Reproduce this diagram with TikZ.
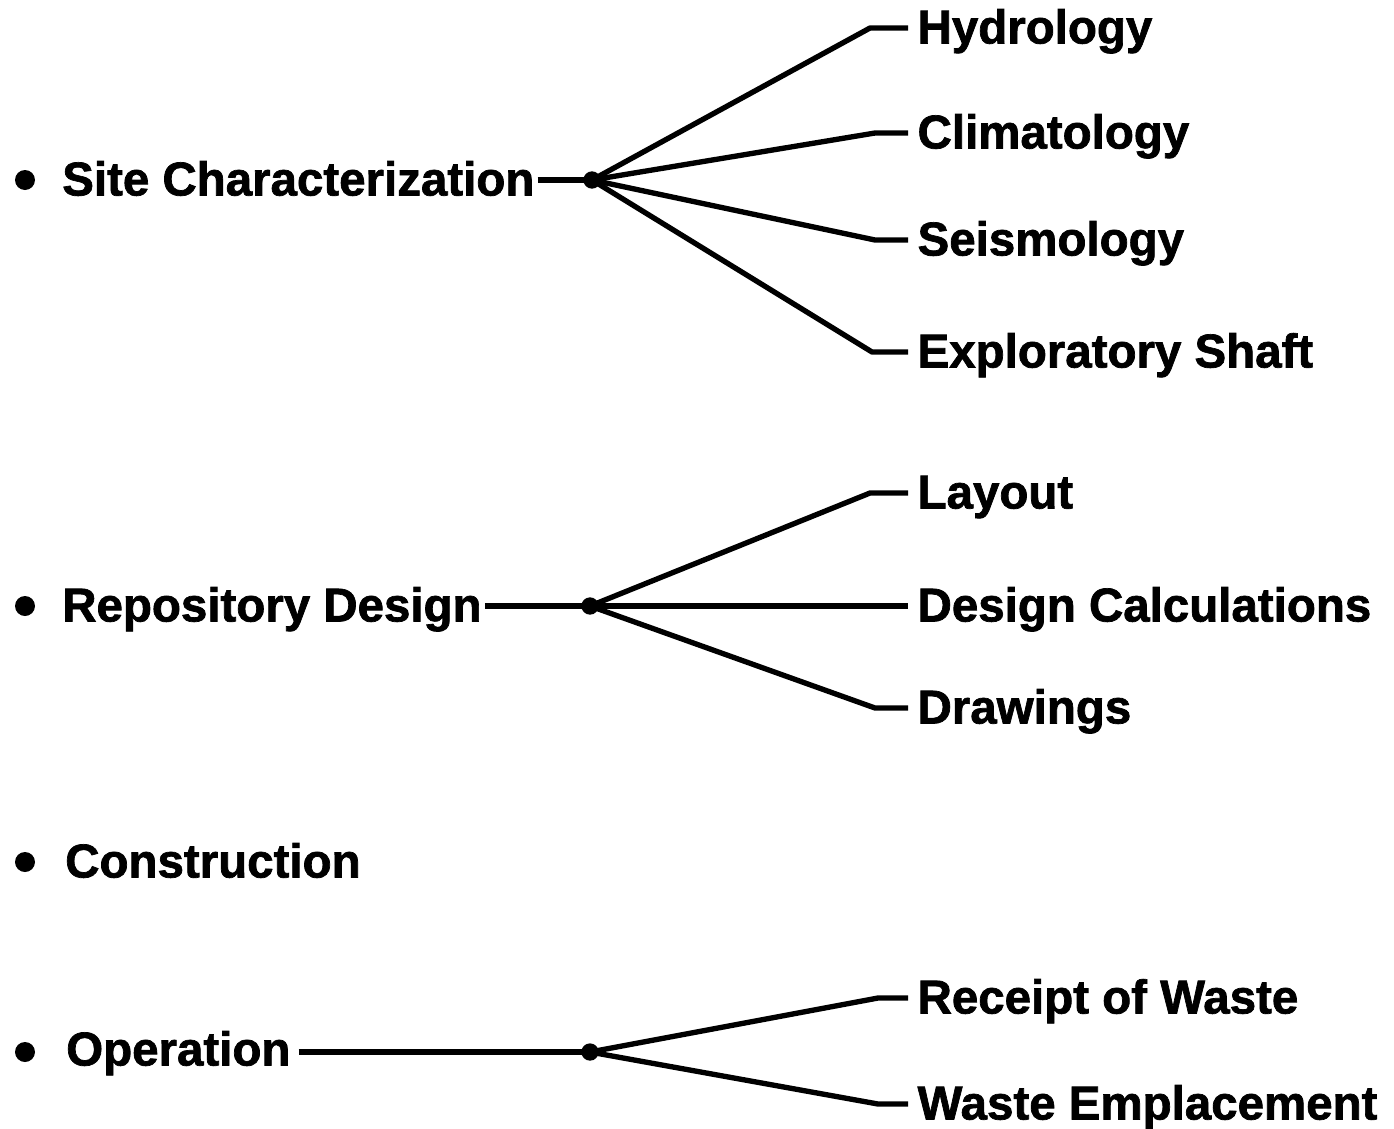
\documentclass[tikz,border=0pt]{standalone}
\usepackage{fontspec}
\setmainfont{Liberation Sans}[BoldFeatures={FakeBold=1.5}]
\begin{document}
\begin{tikzpicture}[x=0.75pt,y=-0.75pt,
  conn/.style={line width=4pt,line join=round,line cap=butt},
  lbl/.style={anchor=west,inner ysep=0pt,inner xsep=7pt,font=\fontsize{35.6}{40}\bfseries\selectfont,text height=28.5pt,text depth=5.3pt},
  mainlbl/.style={lbl,inner xsep=0pt},
  hubdot/.style={circle,fill=black,inner sep=0pt,minimum size=13pt},
  bulletdot/.style={circle,fill=black,inner sep=0pt,minimum size=15pt}]
\useasboundingbox (0,0) rectangle (1394,1128);
% Site characterization
\node[bulletdot] (b1) at (25,180) {};
\node[mainlbl] (site) at (62,180) {Site Characterization};
\node[hubdot] (h1) at (592,180) {};
\coordinate (k11) at (870,28);
\coordinate (k12) at (875,133);
\coordinate (k13) at (875,240);
\coordinate (k14) at (872,352);
\node[lbl] (hyd) at (908,28) {Hydrology};
\node[lbl] (cli) at (908,133) {Climatology};
\node[lbl] (sei) at (908,240) {Seismology};
\node[lbl] (exp) at (908,352) {Exploratory Shaft};
\draw[conn] (site.east) ++(3,0) -- (h1.center);
\draw[conn] (h1.center) -- (k11) -- (hyd.west);
\draw[conn] (h1.center) -- (k12) -- (cli.west);
\draw[conn] (h1.center) -- (k13) -- (sei.west);
\draw[conn] (h1.center) -- (k14) -- (exp.west);
% Repository design
\node[bulletdot] (b2) at (25,606) {};
\node[mainlbl] (rep) at (62,606) {Repository Design};
\node[hubdot] (h2) at (590,606) {};
\coordinate (k21) at (870,493);
\coordinate (k23) at (875,708);
\node[lbl] (lay) at (908,493) {Layout};
\node[lbl] (des) at (908,606) {Design Calculations};
\node[lbl] (dra) at (908,708) {Drawings};
\draw[conn] (rep.east) ++(3,0) -- (h2.center);
\draw[conn] (h2.center) -- (k21) -- (lay.west);
\draw[conn] (h2.center) -- (des.west);
\draw[conn] (h2.center) -- (k23) -- (dra.west);
% Construction
\node[bulletdot] (b3) at (25,862) {};
\node[mainlbl] (con) at (65,862) {Construction};
% Operation
\node[bulletdot] (b4) at (25,1052) {};
\node[mainlbl] (ope) at (66,1050) {Operation};
\node[hubdot] (h4) at (590,1052) {};
\coordinate (k41) at (878,998);
\coordinate (k42) at (878,1104);
\node[lbl] (rec) at (908,998) {Receipt of Waste};
\node[lbl] (was) at (908,1104) {Waste Emplacement};
\draw[conn] (ope.east) ++(8,2) -- (h4.center);
\draw[conn] (h4.center) -- (k41) -- (rec.west);
\draw[conn] (h4.center) -- (k42) -- (was.west);
\end{tikzpicture}
\end{document}
